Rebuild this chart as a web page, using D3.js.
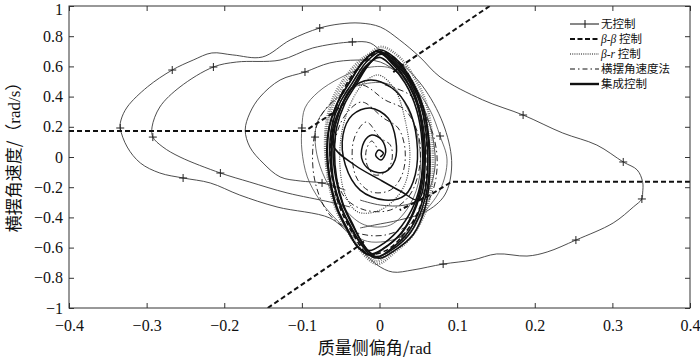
<!DOCTYPE html>
<html>
<head>
<meta charset="utf-8">
<script src="https://cdn.jsdelivr.net/npm/d3@7/dist/d3.min.js"></script>
<style>
  body { margin: 0; background: #fff; }
  svg { display: block; }
</style>
</head>
<body>
<svg id="svg" width="700" height="358"></svg>
<script>
// DATA //  [sideslip beta (rad), yaw rate r (rad/s)]

const xTicks = [-0.4, -0.3, -0.2, -0.1, 0, 0.1, 0.2, 0.3, 0.4];
const yTicks = [-1, -0.8, -0.6, -0.4, -0.2, 0, 0.2, 0.4, 0.6, 0.8, 1];
const legendLabels = ["无控制", "β-β 控制", "β-r 控制", "横摆角速度法", "集成控制"];

// no control (thin line with + markers)
const noCtrlOuter = [[-0.032,-0.536],[-0.041,-0.497],[-0.064,-0.404],[-0.132,-0.331],[-0.180,-0.252],[-0.218,-0.172],
  [-0.253,-0.139],[-0.283,-0.106],[-0.308,-0.040],[-0.325,0.066],[-0.334,0.192],[-0.333,0.245],[-0.325,0.331],
  [-0.299,0.464],[-0.267,0.576],[-0.240,0.642],[-0.216,0.689],[-0.189,0.676],[-0.151,0.662],[-0.115,0.775],
  [-0.077,0.854],[-0.051,0.881],[-0.025,0.887],[0.001,0.861],[0.026,0.775],[0.052,0.662],[0.078,0.530],
  [0.133,0.378],[0.185,0.278],[0.236,0.159],[0.280,0.079],[0.314,-0.033],[0.332,-0.086],[0.339,-0.166],
  [0.339,-0.238],[0.338,-0.278],[0.327,-0.331],[0.301,-0.437],[0.253,-0.550],[0.216,-0.629],[0.190,-0.656],
  [0.151,-0.642],[0.120,-0.682],[0.082,-0.709],[0.043,-0.748],[0.017,-0.762],[-0.003,-0.715],[-0.023,-0.616]];
const noCtrlMid = [[-0.038,-0.331],[-0.064,-0.298],[-0.119,-0.238],[-0.167,-0.166],[-0.205,-0.106],[-0.257,0.000],
  [-0.279,0.066],[-0.292,0.132],[-0.293,0.199],[-0.283,0.331],[-0.257,0.464],[-0.214,0.596],[-0.184,0.629],
  [-0.128,0.642],[-0.086,0.722],[-0.035,0.762],[-0.012,0.755],[0.005,0.689],[0.026,0.629],[0.059,0.444],
  [0.084,0.192],[0.093,-0.053],[0.084,-0.252],[0.059,-0.364],[0.026,-0.417],[-0.006,-0.450],[-0.025,-0.470]];
const noCtrlInner = [[-0.044,-0.219],[-0.074,-0.172],[-0.102,-0.159],[-0.128,-0.132],[-0.150,-0.040],[-0.167,0.066],
  [-0.173,0.179],[-0.167,0.291],[-0.154,0.397],[-0.128,0.510],[-0.096,0.563],[-0.064,0.623],[-0.029,0.642],
  [0.001,0.629],[0.026,0.543],[0.052,0.378],[0.068,0.146],[0.071,-0.086],[0.059,-0.252],[0.033,-0.318],
  [0.001,-0.318],[-0.025,-0.285]];
const noCtrlNear1 = [[0.026,-0.530],[0.001,-0.563],[-0.021,-0.550],[-0.051,-0.437],[-0.077,-0.285],[-0.093,-0.132],
  [-0.100,0.046],[-0.100,0.192],[-0.096,0.325],[-0.079,0.430],[-0.051,0.523],[-0.019,0.589],[0.014,0.589],
  [0.042,0.477],[0.065,0.311],[0.078,0.139],[0.087,-0.020],[0.078,-0.219],[0.052,-0.397]];
const noCtrlNear2 = [[-0.019,-0.450],[-0.044,-0.351],[-0.066,-0.185],[-0.079,-0.020],[-0.083,0.132],[-0.079,0.245],
  [-0.057,0.378],[-0.025,0.477],[0.014,0.477],[0.037,0.311],[0.050,0.113],[0.052,-0.119],[0.039,-0.318],
  [0.014,-0.450]];
const noCtrlMarks = [[-0.267,0.576],[-0.077,0.854],[-0.334,0.192],[-0.253,-0.139],[0.185,0.278],[0.314,-0.033],
  [0.338,-0.278],[0.253,-0.550],[0.082,-0.709],[-0.035,0.762],[-0.214,0.596],[-0.292,0.132],[-0.205,-0.106],
  [-0.096,0.563],[-0.074,-0.172],[-0.100,0.192],[0.078,0.139],[0.029,-0.530],[-0.083,0.132]];

// beta-beta control (thick dashed)
const bbLeft = [[-0.4,0.172],[-0.096,0.172],[-0.060,0.291],[-0.045,0.36]];
const bbRight = [[0.4,-0.164],[0.093,-0.164],[0.065,-0.252],[0.026,-0.351]];
const bbLow = [[-0.144,-1.0],[-0.029,-0.596],[-0.018,-0.55]];
const bbHigh = [[0.142,1.0],[0.026,0.596],[0.015,0.55]];
const bbLoop = [[0.003,0.70],[0.030,0.60],[0.050,0.40],[0.060,0.15],[0.060,-0.16],[0.050,-0.36],[0.030,-0.52],
  [0.008,-0.62],[-0.015,-0.64],[-0.035,-0.50],[-0.052,-0.32],[-0.062,-0.10],[-0.063,0.12],[-0.055,0.34],
  [-0.038,0.52],[-0.018,0.64]];

// beta-r control (dotted)
const brLoop1 = [[0.002,0.729],[0.024,0.669],[0.043,0.543],[0.060,0.358],[0.068,0.113],[0.068,-0.152],
  [0.060,-0.351],[0.042,-0.523],[0.020,-0.629],[-0.003,-0.709],[-0.023,-0.629],[-0.041,-0.483],[-0.055,-0.338],
  [-0.064,-0.166],[-0.069,0.046],[-0.066,0.232],[-0.056,0.391],[-0.038,0.536],[-0.017,0.662]];
const brLoop2 = [[0.000,0.70],[0.021,0.64],[0.040,0.52],[0.056,0.34],[0.064,0.11],[0.064,-0.15],[0.057,-0.34],
  [0.039,-0.50],[0.017,-0.61],[-0.004,-0.69],[-0.026,-0.60],[-0.044,-0.47],[-0.058,-0.32],[-0.066,-0.15],
  [-0.070,0.05],[-0.068,0.24],[-0.059,0.40],[-0.041,0.55],[-0.020,0.66]];
const brLoop3 = [[-0.001,0.543],[0.020,0.444],[0.033,0.245],[0.039,-0.020],[0.029,-0.219],[0.001,-0.351],
  [-0.028,-0.364],[-0.044,-0.252],[-0.051,-0.053],[-0.048,0.179],[-0.035,0.378],[-0.019,0.497]];

// yaw rate method (dash-dot), spirals in
const yawRate = [[0.007,0.477],[0.039,0.411],[0.062,0.245],[0.074,0.013],[0.069,-0.219],[0.046,-0.417],
  [0.007,-0.517],[-0.032,-0.497],[-0.064,-0.384],[-0.082,-0.185],[-0.086,0.046],[-0.077,0.258],
  [-0.051,0.411],[-0.023,0.477],[0.007,0.378],[0.033,0.311],[0.050,0.146],[0.052,-0.053],[0.039,-0.252],
  [0.014,-0.351],[-0.019,-0.351],[-0.044,-0.272],[-0.057,-0.099],[-0.057,0.113],[-0.044,0.278],
  [-0.023,0.364],[0.005,0.258],[0.024,0.192],[0.033,0.046],[0.029,-0.119],[0.014,-0.219],[-0.010,-0.232],
  [-0.028,-0.152],[-0.035,-0.020],[-0.032,0.132],[-0.017,0.232],[0.001,0.126],[0.014,0.079],[0.016,-0.020],
  [0.008,-0.099],[-0.006,-0.119],[-0.016,-0.053],[-0.017,0.046],[-0.010,0.106],[-0.002,0.046]];

// integrated control (thick solid)
const ctrlSpiral = [[0.001,0.000],[0.005,0.026],[-0.001,0.046],[-0.005,0.013],[0.002,-0.020],[0.008,0.033],
  [0.003,0.113],[-0.010,0.146],[-0.020,0.099],[-0.023,-0.007],[-0.012,-0.086],[0.007,-0.099],[0.020,-0.020],
  [0.021,0.113],[0.011,0.258],[-0.012,0.325],[-0.035,0.278],[-0.047,0.146],[-0.044,-0.053],[-0.025,-0.219],
  [0.007,-0.285],[0.033,-0.252],[0.046,-0.119],[0.048,0.113],[0.037,0.325],[0.016,0.457],[-0.012,0.510],
  [-0.038,0.444],[-0.053,0.278],[-0.060,0.079],[-0.032,-0.053],[0.001,-0.152],[0.029,-0.232],[0.050,-0.285],
  [0.059,-0.020],[0.052,0.311],[0.033,0.543],[0.001,0.695]];
const ctrlCycle1 = [[-0.006,-0.669],[0.016,-0.603],[0.037,-0.497],[0.053,-0.331],[0.061,-0.152],[0.061,0.113],
  [0.053,0.344],[0.037,0.523],[0.017,0.642],[0.001,0.695],[-0.017,0.629],[-0.035,0.490],[-0.051,0.358],
  [-0.061,0.212],[-0.064,0.046],[-0.060,-0.152],[-0.051,-0.318],[-0.038,-0.450],[-0.023,-0.583]];
const ctrlCycle2 = [[-0.010,-0.64],[0.012,-0.58],[0.032,-0.48],[0.048,-0.32],[0.056,-0.15],[0.057,0.10],
  [0.050,0.33],[0.035,0.50],[0.016,0.62],[0.002,0.68],[-0.014,0.61],[-0.030,0.48],[-0.045,0.35],[-0.055,0.20],
  [-0.058,0.04],[-0.055,-0.15],[-0.047,-0.31],[-0.035,-0.44],[-0.022,-0.57]];
const ctrlCycle3 = [[-0.004,-0.66],[0.020,-0.60],[0.040,-0.50],[0.055,-0.34],[0.063,-0.16],[0.063,0.11],
  [0.055,0.35],[0.039,0.53],[0.019,0.66],[0.000,0.71],[-0.020,0.64],[-0.038,0.50],[-0.054,0.36],[-0.064,0.21],
  [-0.067,0.04],[-0.063,-0.16],[-0.055,-0.33],[-0.043,-0.46],[-0.027,-0.60]];
const ctrlCycle4 = [[-0.014,-0.62],[0.006,-0.57],[0.028,-0.46],[0.045,-0.31],[0.054,-0.14],[0.055,0.09],
  [0.048,0.31],[0.033,0.49],[0.014,0.61],[0.000,0.66],[-0.018,0.60],[-0.034,0.47],[-0.050,0.33],[-0.060,0.19],
  [-0.062,0.03],[-0.059,-0.16],[-0.050,-0.32],[-0.038,-0.46],[-0.026,-0.56]];
const ctrlCycle5 = [[-0.012,-0.65],[0.010,-0.59],[0.030,-0.49],[0.046,-0.33],[0.054,-0.16],[0.056,0.10],
  [0.049,0.34],[0.033,0.52],[0.013,0.65],[-0.003,0.70],[-0.021,0.63],[-0.039,0.49],[-0.055,0.35],[-0.065,0.20],
  [-0.068,0.04],[-0.064,-0.16],[-0.056,-0.33],[-0.044,-0.46],[-0.029,-0.59]];
const ctrlCycle6 = [[-0.001,-0.67],[0.022,-0.61],[0.044,-0.51],[0.058,-0.35],[0.064,-0.17],[0.064,0.10],
  [0.056,0.33],[0.040,0.51],[0.020,0.64],[0.004,0.69],[-0.013,0.62],[-0.031,0.49],[-0.047,0.36],[-0.057,0.21],
  [-0.060,0.05],[-0.056,-0.15],[-0.047,-0.32],[-0.034,-0.46],[-0.018,-0.60]];

// MAIN //

const svg = d3.select("#svg");

// Plot box
let margin = {top: 6, right: 10, bottom: 50, left: 69};
let width = 700 - margin.left - margin.right;
let height = 358 - margin.top - margin.bottom;

const x = d3.scaleLinear().domain([-0.4, 0.4]).range([0, width]);
const y = d3.scaleLinear().domain([-1, 1]).range([height, 0]);

const serif = "'Liberation Serif', 'DejaVu Serif', serif";
const cjk = "'Noto Sans CJK SC', sans-serif";

const g = svg.append("g")
  .attr("transform", "translate(" + margin.left + "," + margin.top + ")");

g.append("clipPath").attr("id", "clip")
  .append("rect").attr("width", width).attr("height", height);

const plot = g.append("g").attr("clip-path", "url(#clip)");

let fmt = d => d === 0 ? "0" : (d < 0 ? "\u2212" : "") + String(+Math.abs(d).toFixed(1));

// Axes (ticks pointing inward on all four sides)
function styleAxis(sel) {
  sel.attr("font-family", null).attr("font-size", null);
  sel.select(".domain").remove();
  sel.selectAll("line").attr("stroke", "#333");
  sel.selectAll("text").style("font-family", serif).style("font-size", "16px").attr("fill", "#111");
}

g.append("g").attr("transform", `translate(0,${height})`)
  .call(d3.axisBottom(x).tickValues(xTicks).tickSize(-5).tickPadding(12).tickFormat(fmt))
  .call(styleAxis);
g.append("g")
  .call(d3.axisTop(x).tickValues(xTicks).tickSize(-5).tickFormat(""))
  .call(styleAxis);
g.append("g")
  .call(d3.axisLeft(y).tickValues(yTicks).tickSize(-5).tickPadding(6).tickFormat(fmt))
  .call(styleAxis)
  .selectAll("text").filter(d => d === 1).attr("dy", "0.5em");
g.append("g").attr("transform", `translate(${width},0)`)
  .call(d3.axisRight(y).tickValues(yTicks).tickSize(-5).tickFormat(""))
  .call(styleAxis);

// Curves
let line = d3.line().x(d => x(d[0])).y(d => y(d[1])).curve(d3.curveCatmullRom.alpha(0.5));
let loop = d3.line().x(d => x(d[0])).y(d => y(d[1])).curve(d3.curveCatmullRomClosed.alpha(0.5));
let straight = d3.line().x(d => x(d[0])).y(d => y(d[1]));

function draw(data, gen, w, dash, color) {
  plot.append("path").datum(data)
    .attr("d", gen)
    .attr("fill", "none")
    .attr("stroke", color || "#111")
    .attr("stroke-width", w)
    .attr("stroke-dasharray", dash || null)
    .attr("stroke-linejoin", "round");
}

// no control
[noCtrlOuter, noCtrlMid, noCtrlInner].forEach(d => draw(d, line, 0.9, null, "#3a3a3a"));
[noCtrlNear1, noCtrlNear2].forEach(d => draw(d, loop, 0.8, null, "#4a4a4a"));
plot.append("g").selectAll("path")
  .data(noCtrlMarks)
  .enter().append("path")
  .attr("d", d => `M${x(d[0]) - 4},${y(d[1])}h8M${x(d[0])},${y(d[1]) - 4}v8`)
  .attr("stroke", "#222")
  .attr("stroke-width", 1);

// yaw rate method
draw(yawRate, line, 0.9, "6,3,1.5,3");

// beta-r (dense dotted band)
[brLoop1, brLoop2].forEach(d => draw(d, loop, 2.6, "0.8,1.4", "#666"));
draw(brLoop3, loop, 1.1, "1,1.3", "#333");

// integrated control
draw(ctrlSpiral, line, 1.5);
[ctrlCycle1, ctrlCycle2, ctrlCycle3, ctrlCycle4, ctrlCycle5, ctrlCycle6].forEach(d => draw(d, loop, 1.6));

// beta-beta
[bbLeft, bbRight, bbLow, bbHigh].forEach(d => draw(d, straight, 2, "5,3"));
draw(bbLoop, loop, 1.6, "5,3");

// Frame
g.append("rect")
  .attr("width", width).attr("height", height)
  .attr("fill", "none").attr("stroke", "#333").attr("stroke-width", 1);

// Legend
let legendStyles = [
  {w: 1, dash: null, mark: true},
  {w: 2.2, dash: "5,2.5"},
  {w: 1.2, dash: "1,1.2"},
  {w: 1, dash: "5,3,1.5,3"},
  {w: 2.4, dash: null}
];

const legend = svg.append("g").attr("class", "legend");

legendLabels.forEach((label, i) => {
  let ly = 24 + i * 15;
  let s = legendStyles[i];
  legend.append("line")
    .attr("x1", 570).attr("x2", 599).attr("y1", ly).attr("y2", ly)
    .attr("stroke", "#111").attr("stroke-width", s.w)
    .attr("stroke-dasharray", s.dash);
  if (s.mark) {
    legend.append("line").attr("x1", 585).attr("x2", 585).attr("y1", ly - 4).attr("y2", ly + 4)
      .attr("stroke", "#111").attr("stroke-width", 1);
  }
  let t = legend.append("text")
    .attr("x", 601).attr("y", ly + 4)
    .style("font-size", "11.5px")
    .attr("fill", "#111");
  label.split(/([βr\-])/).filter(p => p !== "").forEach(p => {
    let latin = /^[βr\-]$/.test(p);
    t.append("tspan")
      .style("font-family", latin ? serif : cjk)
      .style("font-style", /^[βr]$/.test(p) ? "italic" : null)
      .text(p);
  });
});

// Axis titles (CJK parts in CJK font, Latin parts in serif)
function mixedText(sel, parts) {
  parts.forEach(p => {
    sel.append("tspan")
      .style("font-family", p[1] ? serif : cjk)
      .text(p[0]);
  });
}

svg.append("text")
  .attr("x", margin.left + x(0) - 5).attr("y", 354)
  .attr("text-anchor", "middle")
  .style("font-size", "17px").attr("fill", "#111")
  .call(mixedText, [["质量侧偏角/", false], ["rad", true]]);

svg.append("text")
  .attr("transform", "translate(20,153) rotate(-90)")
  .attr("text-anchor", "middle")
  .style("font-size", "17px").attr("fill", "#111")
  .call(mixedText, [["横摆角速度/（", false], ["rad/s", true], ["）", false]]);
</script>
</body>
</html>
